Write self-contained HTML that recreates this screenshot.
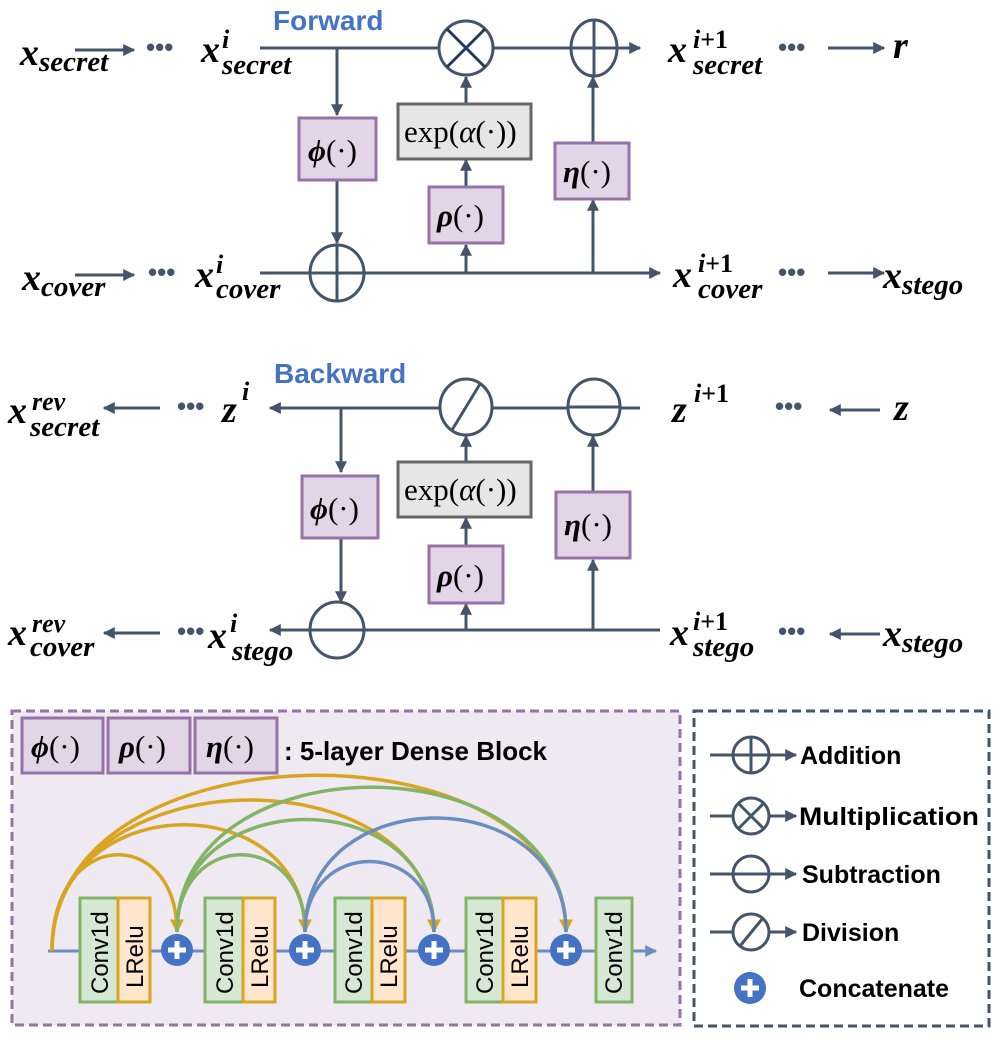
<!DOCTYPE html>
<html><head><meta charset="utf-8"><style>
html,body{margin:0;padding:0;background:#fff}
svg{display:block}
.m{font-family:"Liberation Serif",serif;font-style:italic;font-weight:bold;fill:#000}
.s{font-family:"Liberation Sans",sans-serif;font-weight:bold}
.ln{stroke:#44546a;stroke-width:3;fill:none}
.op{stroke:#44546a;stroke-width:3;fill:#fff}
.pb{fill:#e1d5e7;stroke:#9673a6;stroke-width:3}
.gb{fill:#e7e6e6;stroke:#666;stroke-width:3}
.fn{font-family:"Liberation Serif",serif;font-size:31px;fill:#000}
</style></head><body>
<svg width="996" height="1039" viewBox="0 0 996 1039" xmlns="http://www.w3.org/2000/svg">
<defs>
<marker id="a" viewBox="0 0 10 10" refX="9" refY="5" markerWidth="4" markerHeight="4" orient="auto-start-reverse"><path d="M0,0L10,5L0,10z" fill="#44546a"/></marker>
<marker id="y" viewBox="0 0 10 10" refX="9" refY="5" markerWidth="4" markerHeight="4" orient="auto"><path d="M0,0L10,5L0,10z" fill="#d9a520"/></marker>
<marker id="b" viewBox="0 0 10 10" refX="9" refY="5" markerWidth="4" markerHeight="4" orient="auto"><path d="M0,0L10,5L0,10z" fill="#6c8ebf"/></marker>
</defs>

<!-- FORWARD -->
<text x="273" y="30" class="s" font-size="28" fill="#4472c4">Forward</text>
<text x="20" y="65" class="m" font-size="38">x<tspan font-size="29" dy="6">secret</tspan></text>
<line x1="75" y1="50" x2="134" y2="50" class="ln" marker-end="url(#a)"/>
<text x="146" y="56" font-size="26" fill="#44546a" class="s">•••</text>
<text x="201" y="62" class="m" font-size="38">x</text><text x="222" y="48" class="m" font-size="26">i</text><text x="222" y="74" class="m" font-size="29">secret</text>
<line x1="260" y1="48" x2="640" y2="48" class="ln" marker-end="url(#a)"/>
<line x1="337" y1="48" x2="337" y2="115" class="ln" marker-end="url(#a)"/>
<line x1="337" y1="180" x2="337" y2="243" class="ln" marker-end="url(#a)"/>
<rect x="299" y="118" width="77" height="62" class="pb"/><text x="308" y="161" class="fn"><tspan font-style="italic" font-weight="bold">ϕ</tspan>(·)</text>
<line x1="260" y1="273" x2="660" y2="273" class="ln" marker-end="url(#a)"/>
<line x1="466" y1="273" x2="466" y2="245" class="ln" marker-end="url(#a)"/>
<line x1="466" y1="187" x2="466" y2="160" class="ln" marker-end="url(#a)"/>
<line x1="466" y1="104" x2="466" y2="77" class="ln" marker-end="url(#a)"/>
<line x1="593" y1="273" x2="593" y2="200" class="ln" marker-end="url(#a)"/>
<line x1="593" y1="143" x2="593" y2="77" class="ln" marker-end="url(#a)"/>
<rect x="398" y="104" width="133" height="55" class="gb"/><text x="404" y="142" class="fn">exp(<tspan font-style="italic">α</tspan>(·))</text>
<rect x="429" y="187" width="74" height="56" class="pb"/><text x="437" y="226" class="fn"><tspan font-style="italic" font-weight="bold">ρ</tspan>(·)</text>
<rect x="555" y="143" width="74" height="56" class="pb"/><text x="563" y="182" class="fn"><tspan font-style="italic" font-weight="bold">η</tspan>(·)</text>
<circle cx="466" cy="48" r="27" class="op" stroke="#1f3a5f"/><path d="M447,29L485,67M485,29L447,67" stroke="#1f3a5f" stroke-width="3"/>
<ellipse cx="594" cy="48" rx="23" ry="28" class="op"/><path d="M594,20V76M571,48H617" class="ln"/>
<ellipse cx="337" cy="273" rx="27" ry="28" class="op"/><path d="M337,245V301M310,273H364" class="ln"/>
<text x="668" y="62" class="m" font-size="38">x</text><text x="693" y="48" class="m" font-size="26">i<tspan font-style="normal">+1</tspan></text><text x="693" y="74" class="m" font-size="29">secret</text>
<text x="778" y="56" font-size="26" fill="#44546a" class="s">•••</text>
<line x1="828" y1="48" x2="884" y2="48" class="ln" marker-end="url(#a)"/>
<text x="893" y="58" class="m" font-size="38">r</text>
<text x="22" y="290" class="m" font-size="38">x<tspan font-size="29" dy="6">cover</tspan></text>
<line x1="75" y1="275" x2="134" y2="275" class="ln" marker-end="url(#a)"/>
<text x="148" y="281" font-size="26" fill="#44546a" class="s">•••</text>
<text x="195" y="287" class="m" font-size="38">x</text><text x="216" y="273" class="m" font-size="26">i</text><text x="216" y="298" class="m" font-size="29">cover</text>
<text x="673" y="287" class="m" font-size="38">x</text><text x="698" y="272" class="m" font-size="26">i<tspan font-style="normal">+1</tspan></text><text x="698" y="298" class="m" font-size="29">cover</text>
<text x="778" y="281" font-size="26" fill="#44546a" class="s">•••</text>
<line x1="828" y1="273" x2="884" y2="273" class="ln" marker-end="url(#a)"/>
<text x="883" y="288" class="m" font-size="38">x<tspan font-size="29" dy="6">stego</tspan></text>

<!-- BACKWARD -->
<text x="274" y="383" class="s" font-size="28" fill="#4472c4">Backward</text>
<text x="8" y="423" class="m" font-size="38">x</text><text x="32" y="410" class="m" font-size="26">rev</text><text x="30" y="436" class="m" font-size="29">secret</text>
<line x1="160" y1="408" x2="104" y2="408" class="ln" marker-end="url(#a)"/>
<text x="177" y="415" font-size="26" fill="#44546a" class="s">•••</text>
<text x="222" y="422" class="m" font-size="38">z</text><text x="242" y="400" class="m" font-size="26">i</text>
<line x1="640" y1="408" x2="270" y2="408" class="ln" marker-end="url(#a)"/>
<line x1="341" y1="408" x2="341" y2="472" class="ln" marker-end="url(#a)"/>
<line x1="341" y1="538" x2="341" y2="602" class="ln" marker-end="url(#a)"/>
<rect x="302" y="476" width="76" height="62" class="pb"/><text x="310" y="519" class="fn"><tspan font-style="italic" font-weight="bold">ϕ</tspan>(·)</text>
<line x1="660" y1="630" x2="270" y2="630" class="ln" marker-end="url(#a)"/>
<line x1="466" y1="630" x2="466" y2="604" class="ln" marker-end="url(#a)"/>
<line x1="466" y1="546" x2="466" y2="518" class="ln" marker-end="url(#a)"/>
<line x1="466" y1="462" x2="466" y2="436" class="ln" marker-end="url(#a)"/>
<line x1="593" y1="630" x2="593" y2="560" class="ln" marker-end="url(#a)"/>
<line x1="593" y1="492" x2="593" y2="436" class="ln" marker-end="url(#a)"/>
<rect x="398" y="462" width="133" height="55" class="gb"/><text x="404" y="500" class="fn">exp(<tspan font-style="italic">α</tspan>(·))</text>
<rect x="429" y="546" width="74" height="57" class="pb"/><text x="437" y="586" class="fn"><tspan font-style="italic" font-weight="bold">ρ</tspan>(·)</text>
<rect x="556" y="492" width="74" height="66" class="pb"/><text x="564" y="535" class="fn"><tspan font-style="italic" font-weight="bold">η</tspan>(·)</text>
<ellipse cx="466" cy="407" rx="26" ry="28" class="op"/><path d="M452,430L480,384" class="ln"/>
<ellipse cx="594" cy="407" rx="26" ry="28" class="op"/><path d="M568,407H620" class="ln"/>
<ellipse cx="337" cy="630" rx="27" ry="28" class="op"/><path d="M310,630H364" class="ln"/>
<text x="672" y="422" class="m" font-size="38">z</text><text x="694" y="402" class="m" font-size="26">i<tspan font-style="normal">+1</tspan></text>
<text x="775" y="415" font-size="26" fill="#44546a" class="s">•••</text>
<line x1="880" y1="410" x2="830" y2="410" class="ln" marker-end="url(#a)"/>
<text x="894" y="420" class="m" font-size="38">z</text>
<text x="8" y="645" class="m" font-size="38">x</text><text x="32" y="632" class="m" font-size="26">rev</text><text x="30" y="656" class="m" font-size="29">cover</text>
<line x1="160" y1="633" x2="104" y2="633" class="ln" marker-end="url(#a)"/>
<text x="177" y="640" font-size="26" fill="#44546a" class="s">•••</text>
<text x="208" y="648" class="m" font-size="38">x</text><text x="230" y="632" class="m" font-size="26">i</text><text x="232" y="660" class="m" font-size="29">stego</text>
<text x="670" y="645" class="m" font-size="38">x</text><text x="693" y="630" class="m" font-size="26">i<tspan font-style="normal">+1</tspan></text><text x="693" y="656" class="m" font-size="29">stego</text>
<text x="778" y="640" font-size="26" fill="#44546a" class="s">•••</text>
<line x1="880" y1="634" x2="830" y2="634" class="ln" marker-end="url(#a)"/>
<text x="883" y="646" class="m" font-size="38">x<tspan font-size="29" dy="6">stego</tspan></text>

<!-- DENSE BLOCK -->
<rect x="12" y="711" width="668" height="314" fill="#efe9f2" stroke="#9673a6" stroke-width="3" stroke-dasharray="9,5"/>
<rect x="22" y="718" width="81" height="55" class="pb"/><text x="31" y="757" class="fn"><tspan font-style="italic" font-weight="bold">ϕ</tspan>(·)</text>
<rect x="108" y="718" width="82" height="55" class="pb"/><text x="119" y="757" class="fn"><tspan font-style="italic" font-weight="bold">ρ</tspan>(·)</text>
<rect x="195" y="718" width="82" height="55" class="pb"/><text x="206" y="757" class="fn"><tspan font-style="italic" font-weight="bold">η</tspan>(·)</text>
<text x="284" y="760" class="s" font-size="26">: 5-layer Dense Block</text>
<line x1="48" y1="951" x2="656" y2="951" stroke="#6c8ebf" stroke-width="3" marker-end="url(#b)"/>
<g fill="none" stroke-width="3.5">
<path d="M52,951C52,826 177,826 177,932" stroke="#d9a520" marker-end="url(#y)"/>
<path d="M52,951C52,786 305,786 305,932" stroke="#d9a520" marker-end="url(#y)"/>
<path d="M52,951C52,753 434,753 434,932" stroke="#d9a520" marker-end="url(#y)"/>
<path d="M52,951C52,720 566,720 566,932" stroke="#d9a520" marker-end="url(#y)"/>
<path d="M177,932C177,829 305,829 305,932" stroke="#82b366"/>
<path d="M177,932C177,782 434,782 434,932" stroke="#82b366"/>
<path d="M177,932C177,739 566,739 566,932" stroke="#82b366"/>
<path d="M305,932C305,838 434,838 434,932" stroke="#6c8ebf"/>
<path d="M305,932C305,780 566,780 566,932" stroke="#6c8ebf"/>
</g>
<g stroke-width="3">
<rect x="80" y="898" width="38" height="104" fill="#d5e8d4" stroke="#82b366"/><rect x="118" y="898" width="32" height="104" fill="#ffe6cc" stroke="#d9a520"/>
<rect x="205" y="898" width="38" height="104" fill="#d5e8d4" stroke="#82b366"/><rect x="243" y="898" width="32" height="104" fill="#ffe6cc" stroke="#d9a520"/>
<rect x="335" y="898" width="37" height="104" fill="#d5e8d4" stroke="#82b366"/><rect x="372" y="898" width="33" height="104" fill="#ffe6cc" stroke="#d9a520"/>
<rect x="466" y="898" width="37" height="104" fill="#d5e8d4" stroke="#82b366"/><rect x="503" y="898" width="33" height="104" fill="#ffe6cc" stroke="#d9a520"/>
<rect x="596" y="898" width="36" height="104" fill="#d5e8d4" stroke="#82b366"/>
</g>
<g font-family="Liberation Sans,sans-serif" font-size="24" fill="#000">
<text transform="translate(108,994) rotate(-90)">Conv1d</text><text transform="translate(143,988) rotate(-90)">LRelu</text>
<text transform="translate(233,994) rotate(-90)">Conv1d</text><text transform="translate(268,988) rotate(-90)">LRelu</text>
<text transform="translate(362,994) rotate(-90)">Conv1d</text><text transform="translate(397,988) rotate(-90)">LRelu</text>
<text transform="translate(493,994) rotate(-90)">Conv1d</text><text transform="translate(528,988) rotate(-90)">LRelu</text>
<text transform="translate(622,994) rotate(-90)">Conv1d</text>
</g>
<g>
<ellipse cx="177" cy="950" rx="16" ry="16" fill="#4472c4"/><path d="M177,941V959M168,950H186" stroke="#fff" stroke-width="5"/>
<ellipse cx="305" cy="950" rx="16" ry="16" fill="#4472c4"/><path d="M305,941V959M296,950H314" stroke="#fff" stroke-width="5"/>
<ellipse cx="434" cy="950" rx="16" ry="16" fill="#4472c4"/><path d="M434,941V959M425,950H443" stroke="#fff" stroke-width="5"/>
<ellipse cx="566" cy="950" rx="16" ry="16" fill="#4472c4"/><path d="M566,941V959M557,950H575" stroke="#fff" stroke-width="5"/>
</g>

<!-- LEGEND -->
<rect x="694" y="711" width="295" height="315" fill="#fff" stroke="#44546a" stroke-width="3" stroke-dasharray="9,5"/>
<g class="s" font-size="25" fill="#000">
<line x1="710" y1="755" x2="796" y2="755" class="ln" marker-end="url(#a)"/><circle cx="751" cy="755" r="18" class="op"/><path d="M751,737V773M733,755H769" class="ln"/>
<text x="800" y="764">Addition</text>
<line x1="710" y1="816" x2="796" y2="816" class="ln" marker-end="url(#a)"/><circle cx="751" cy="816" r="18" class="op"/><path d="M738,803L764,829M764,803L738,829" class="ln"/>
<text x="799" y="825" textLength="180" lengthAdjust="spacingAndGlyphs">Multiplication</text>
<line x1="710" y1="874" x2="796" y2="874" class="ln" marker-end="url(#a)"/><circle cx="751" cy="874" r="18" class="op"/><path d="M733,874H769" class="ln"/>
<text x="802" y="883">Subtraction</text>
<line x1="710" y1="932" x2="796" y2="932" class="ln" marker-end="url(#a)"/><circle cx="751" cy="932" r="18" class="op"/><path d="M740,946L763,918" class="ln"/>
<text x="802" y="941">Division</text>
<circle cx="750" cy="988" r="16" fill="#4472c4"/><path d="M750,979V997M741,988H759" stroke="#fff" stroke-width="5"/>
<text x="799" y="997">Concatenate</text>
</g>
</svg>
</body></html>
